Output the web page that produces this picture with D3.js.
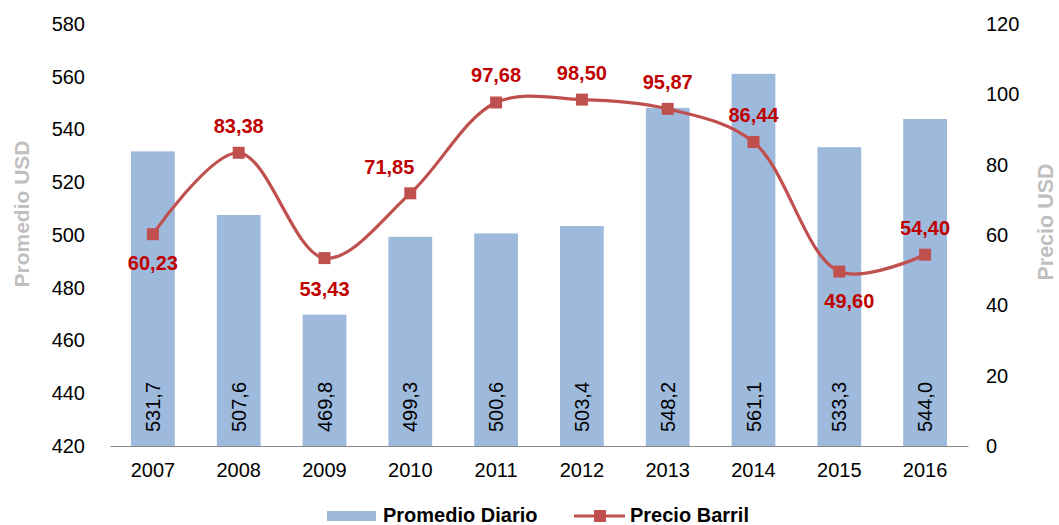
<!DOCTYPE html>
<html><head><meta charset="utf-8">
<script src="https://cdn.jsdelivr.net/npm/d3@7"></script>
<style>body{margin:0;background:#fff}svg{font-family:"Liberation Sans",Arial,sans-serif}</style>
</head><body><svg id="c" width="1059" height="525"></svg>
<script>
const years = ["2007","2008","2009","2010","2011","2012","2013","2014","2015","2016"];
const promedio = [531.7,507.6,469.8,499.3,500.6,503.4,548.2,561.1,533.3,544.0];
const precio = [60.23,83.38,53.43,71.85,97.68,98.50,95.87,86.44,49.60,54.40];
const leftTicks = [420,440,460,480,500,520,540,560,580];
const rightTicks = [0,20,40,60,80,100,120];
// label placement: dx, dy relative to marker
const labelPos = [[0,29],[0,-27],[0,31],[-21,-26],[0,-27],[0,-27],[0,-27],[0,-27],[10,29],[0,-27]];

const fmt = (v,d) => v.toFixed(d).replace(".", ",");
const svg = d3.select("#c");
const L = 110, R = 968, T = 24, B = 446;
const x = d3.scaleBand().domain(years).range([L,R]).paddingInner(0.49).paddingOuter(0.245);
const xc = d => x(d) + x.bandwidth()/2;
const yL = d3.scaleLinear().domain([420,580]).range([B,T]);
const yR = d3.scaleLinear().domain([0,120]).range([B,T]);

// bars
svg.append("g").selectAll("rect").data(years).join("rect")
  .attr("x", d => x(d)).attr("width", x.bandwidth())
  .attr("y", (d,i) => yL(promedio[i])).attr("height", (d,i) => B - yL(promedio[i]))
  .attr("fill", "#9DB9DC");

// bar labels
svg.append("g").selectAll("text").data(years).join("text")
  .attr("transform", (d,i) => `translate(${xc(d)+7},${B-14}) rotate(-90)`)
  .attr("font-size", 20).attr("fill", "#000").text((d,i) => fmt(promedio[i],1));

// axes
const axL = d3.axisLeft(yL).tickValues(leftTicks).tickSize(0).tickPadding(0).tickFormat(d3.format("d"));
const gL = svg.append("g").attr("transform", `translate(${L-25},0)`).call(axL);
gL.select(".domain").remove();
gL.selectAll("text").attr("font-size", 20).attr("fill", "#000").attr("font-family", "Liberation Sans, Arial");

const axR = d3.axisRight(yR).tickValues(rightTicks).tickSize(0).tickPadding(0).tickFormat(d3.format("d"));
const gR = svg.append("g").attr("transform", `translate(${R+18},0)`).call(axR);
gR.select(".domain").remove();
gR.selectAll("text").attr("font-size", 20).attr("fill", "#000").attr("font-family", "Liberation Sans, Arial");

const axB = d3.axisBottom(x).tickSize(0).tickPadding(17);
const gB = svg.append("g").attr("transform", `translate(0,${B})`).call(axB);
gB.select(".domain").attr("stroke", "#868686").attr("stroke-width", 1);
gB.selectAll("text").attr("font-size", 20).attr("fill", "#000").attr("font-family", "Liberation Sans, Arial");

// axis titles
svg.append("text").attr("transform", `translate(29,214) rotate(-90)`).attr("text-anchor","middle")
  .attr("font-size", 21).attr("font-weight","bold").attr("fill","#BFBFBF").text("Promedio USD");
svg.append("text").attr("transform", `translate(1053,222) rotate(-90)`).attr("text-anchor","middle")
  .attr("font-size", 21.5).attr("font-weight","bold").attr("fill","#BFBFBF").text("Precio USD");

// line
const line = d3.line().x((d,i) => xc(years[i])).y(d => yR(d)).curve(d3.curveCatmullRom);
svg.append("path").datum(precio).attr("d", line).attr("fill","none")
  .attr("stroke","#C0504D").attr("stroke-width",3.2);
svg.append("g").selectAll("rect").data(precio).join("rect")
  .attr("x",(d,i)=>xc(years[i])-6).attr("y",d=>yR(d)-6).attr("width",12).attr("height",12)
  .attr("fill","#C0504D");
svg.append("g").selectAll("text").data(precio).join("text")
  .attr("x",(d,i)=>xc(years[i])+labelPos[i][0]).attr("y",(d,i)=>yR(d)+labelPos[i][1]+7)
  .attr("text-anchor","middle").attr("font-size",20).attr("font-weight","bold").attr("fill","#C00000")
  .text(d=>fmt(d,2));

// legend
const lg = svg.append("g");
lg.append("rect").attr("x",327).attr("y",511).attr("width",49).attr("height",10).attr("fill","#9DB9DC");
lg.append("text").attr("x",383).attr("y",522).attr("font-size",20).attr("font-weight","bold").attr("fill","#000").text("Promedio Diario");
lg.append("line").attr("x1",574).attr("x2",625).attr("y1",516).attr("y2",516).attr("stroke","#C0504D").attr("stroke-width",3);
lg.append("rect").attr("x",594).attr("y",510).attr("width",12).attr("height",12).attr("fill","#C0504D");
lg.append("text").attr("x",630).attr("y",522).attr("font-size",20).attr("font-weight","bold").attr("fill","#000").text("Precio Barril");
</script></body></html>
